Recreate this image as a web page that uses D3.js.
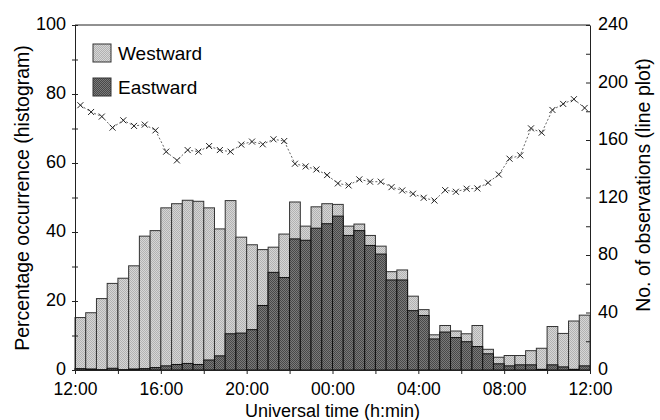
<!DOCTYPE html>
<html>
<head>
<meta charset="utf-8">
<script src="https://cdn.jsdelivr.net/npm/d3@7"></script>
<style>
  body { margin: 0; background: #fff; }
  svg { display: block; font-family: "Liberation Sans", Arial, sans-serif; }
</style>
</head>
<body>
<svg id="chart" width="660" height="420"></svg>
<script>
// half-hour bins starting at 12:00 UT
const westward = [15.2, 16.6, 20.7, 25.1, 26.6, 30.2, 38.8, 40.4, 47.0, 48.2, 49.2, 48.9,
  47.0, 40.9, 49.1, 38.5, 36.3, 34.9, 35.6, 39.4, 48.7, 41.7, 47.3, 48.2,
  48.0, 41.7, 42.3, 39.0, 35.9, 28.5, 29.0, 21.4, 17.5, 10.2, 12.9, 11.3,
  10.5, 12.9, 6.0, 3.7, 4.2, 4.2, 5.6, 6.3, 12.6, 10.6, 14.2, 15.9];
const eastward = [0.4, 0.3, 0.1, 0.5, 0.1, 0.3, 0.4, 0.7, 1.2, 1.6, 1.9, 1.6,
  2.9, 4.1, 10.5, 10.7, 11.7, 18.7, 28.3, 26.8, 38.0, 37.6, 41.1, 42.4,
  44.6, 39.0, 40.4, 36.1, 33.6, 26.1, 26.1, 17.2, 15.8, 9.0, 11.0, 9.4,
  8.2, 6.8, 4.7, 1.8, 1.2, 1.5, 1.5, 0.2, 1.5, 0.9, 0.2, 1.2];
const observations = [184.2, 179.5, 176.3, 168.6, 173.7, 169.8, 170.7, 166.7, 151.9, 145.8, 153.0, 151.9,
  155.8, 153.0, 151.9, 156.8, 158.9, 157.0, 160.5, 159.3, 143.5, 141.6, 139.5, 135.6,
  129.8, 128.4, 132.6, 131.0, 131.0, 127.2, 124.9, 122.6, 119.8, 117.9, 125.1, 124.0,
  126.1, 126.3, 130.3, 136.0, 147.0, 149.3, 168.1, 165.1, 180.9, 185.1, 188.4, 182.3];
const seriesNames = ["Westward", "Eastward"];
const hourTicks = [0, 4, 8, 12, 16, 20, 24];

const width = 660, height = 420;
const margin = { top: 25, right: 70, bottom: 50, left: 75 };
const innerW = width - margin.left - margin.right;
const innerH = height - margin.top - margin.bottom;

const svg = d3.select("#chart");
const defs = svg.append("defs");

function dither(id, base, dot) {
  const p = defs.append("pattern")
    .attr("id", id)
    .attr("width", 2).attr("height", 2)
    .attr("patternUnits", "userSpaceOnUse");
  p.append("rect").attr("width", 2).attr("height", 2).attr("fill", base);
  p.append("rect").attr("width", 1).attr("height", 1).attr("fill", dot);
  p.append("rect").attr("x", 1).attr("y", 1).attr("width", 1).attr("height", 1).attr("fill", dot);
}
dither("westPat", "#d6d6d6", "#b2b2b2");
dither("eastPat", "#7a7a7a", "#484848");

const g = svg.append("g").attr("transform", `translate(${margin.left},${margin.top})`);

const x = d3.scaleLinear().domain([0, 24]).range([0, innerW]);
const y = d3.scaleLinear().domain([0, 100]).range([innerH, 0]);
const yRight = d3.scaleLinear().domain([0, 240]).range([innerH, 0]);
const binH = 0.5;

// bars
g.append("g").selectAll("rect")
  .data(westward)
  .join("rect")
  .attr("x", (d, i) => x(i * binH))
  .attr("y", d => y(d))
  .attr("width", x(binH) - x(0))
  .attr("height", d => y(0) - y(d))
  .attr("fill", "url(#westPat)")
  .attr("stroke", "#333")
  .attr("stroke-width", 1);

g.append("g").selectAll("rect")
  .data(eastward)
  .join("rect")
  .attr("x", (d, i) => x(i * binH))
  .attr("y", d => y(d))
  .attr("width", x(binH) - x(0))
  .attr("height", d => y(0) - y(d))
  .attr("fill", "url(#eastPat)")
  .attr("stroke", "#111")
  .attr("stroke-width", 1);

// line plot
const line = d3.line()
  .x((d, i) => x((i + 0.5) * binH))
  .y(d => yRight(d));

g.append("path")
  .datum(observations)
  .attr("d", line)
  .attr("fill", "none")
  .attr("stroke", "#666")
  .attr("stroke-width", 1)
  .attr("stroke-dasharray", "2,2");

g.append("g").selectAll("path")
  .data(observations)
  .join("path")
  .attr("transform", (d, i) => `translate(${x((i + 0.5) * binH)},${yRight(d)})`)
  .attr("d", "M-3,-3L3,3M-3,3L3,-3")
  .attr("stroke", "#222")
  .attr("stroke-width", 1);

// frame top
g.append("line")
  .attr("x1", 0).attr("x2", innerW)
  .attr("y1", 0).attr("y2", 0)
  .attr("stroke", "#222");

// axes
const fmt = h => String((12 + h) % 24).padStart(2, "0") + ":00";

const xAxis = g.append("g")
  .attr("transform", `translate(0,${innerH})`)
  .call(d3.axisBottom(x).tickValues(d3.range(0, 25, 2)).tickSize(4).tickSizeOuter(0)
    .tickFormat(h => hourTicks.includes(h) ? fmt(h) : ""));
xAxis.selectAll("text").attr("font-size", 17.5).attr("y", 25).attr("dy", null).attr("fill", "#000");

const yAxis = g.append("g")
  .call(d3.axisLeft(y).tickValues(d3.range(0, 101, 10)).tickSize(3).tickSizeOuter(0)
    .tickFormat(v => v % 20 === 0 ? v : ""));
yAxis.selectAll(".tick line").attr("x2", 3).attr("x1", -3);
yAxis.selectAll("text").attr("font-size", 18).attr("x", -9).attr("dy", "0.25em").attr("fill", "#000");

const yAxisR = g.append("g")
  .attr("transform", `translate(${innerW},0)`)
  .call(d3.axisRight(yRight).tickValues(d3.range(0, 241, 20)).tickSizeOuter(0)
    .tickFormat(v => v % 40 === 0 ? v : ""));
yAxisR.selectAll(".tick line").attr("x2", -4);
yAxisR.selectAll("text").attr("font-size", 18).attr("x", 8).attr("dy", "0.25em").attr("fill", "#000");

svg.selectAll(".domain").attr("stroke", "#222");
svg.selectAll(".tick line").attr("stroke", "#222");

// titles
svg.append("text")
  .attr("x", margin.left + innerW / 2)
  .attr("y", 416.5)
  .attr("text-anchor", "middle")
  .attr("font-size", 18)
  .text("Universal time (h:min)");

svg.append("text")
  .attr("transform", "translate(29,198) rotate(-90)")
  .attr("text-anchor", "middle")
  .attr("font-size", 19.5)
  .text("Percentage occurrence (histogram)");

svg.append("text")
  .attr("transform", "translate(650,185) rotate(-90)")
  .attr("text-anchor", "middle")
  .attr("font-size", 19.5)
  .text("No. of observations (line plot)");

// legend
const legend = g.append("g").attr("transform", "translate(18,19)");
seriesNames.forEach((name, i) => {
  const row = legend.append("g").attr("transform", `translate(0,${i * 34})`);
  row.append("rect")
    .attr("width", 18).attr("height", 18)
    .attr("fill", i === 0 ? "url(#westPat)" : "url(#eastPat)")
    .attr("stroke", "#333");
  row.append("text")
    .attr("x", 25).attr("y", 16)
    .attr("font-size", 19)
    .text(name);
});
</script>
</body>
</html>
